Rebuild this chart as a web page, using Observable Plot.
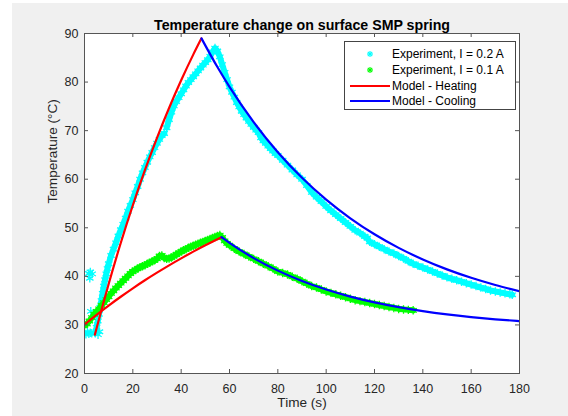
<!DOCTYPE html>
<html><head><meta charset="utf-8">
<script src="https://cdn.jsdelivr.net/npm/d3@7"></script>
<script src="https://cdn.jsdelivr.net/npm/@observablehq/plot@0.6"></script>
<style>
html,body{margin:0;padding:0;background:#fff;}
#wrap{position:relative;width:568px;height:416px;overflow:hidden;}
#edgeL{position:absolute;left:0;top:0;width:12px;height:416px;background:#fff;}
#edgeT{position:absolute;left:0;top:0;width:568px;height:3px;background:#fff;}
#legend{position:absolute;left:344px;top:41px;width:172px;height:69px;border:1px solid #444;background:#fff;box-sizing:border-box;font-family:"Liberation Sans",Arial,sans-serif;font-size:12px;color:#000;}
.row{position:absolute;left:0;height:16px;width:100%;}
.row svg{position:absolute;left:4px;top:0;}
.row span{position:absolute;left:47px;top:1px;line-height:14px;white-space:nowrap;}
</style></head>
<body><div id="wrap"></div>
<script>
const title = "Temperature change on surface SMP spring";
const xLabel = "Time (s)";
const yLabel = "Temperature (°C)";
const xTicks = [0, 20, 40, 60, 80, 100, 120, 140, 160, 180];
const yTicks = [20, 30, 40, 50, 60, 70, 80, 90];

// Experiment, I = 0.2 A  [time s, temperature °C]
const cyanHeating = [[4.5,28.3],[5,29.5],[5.5,30.8],[6,32.2],[6.5,33.6],[7,35],[7.5,36.5],[8,38],[8.5,39.3],[9,40.5],[9.5,41.6],[10,42.6],[11,44.3],[12,45.6],[13,46.9],[14,48.3],[15,49.6],[16,50.7],[17,52.0],[18,53.4],[19,54.6],[20,55.8],[21,57.2],[22,58.5],[23,60.0],[24,61.3],[25,62.4],[26,63.5],[27,64.6],[28,65.5],[29,66.5],[30,67.4],[31,68.2],[32,69.0],[33,69.4]];
const cyanMain = [[34,70.6],[35,72.3],[36,73.8],[37,75.1],[38,76.0],[39,76.8],[40,77.6],[41,78.4],[42,79.2],[43,79.9],[44,80.5],[45,81.1],[46,81.7],[47,82.3],[48,82.9],[49,83.5],[50,84.0],[51,84.6],[52,85.3],[53,86.2],[54,87.0],[55,86.4],[56,85.2],[57,83.6],[58,82.0],[59,80.5],[60,79.0],[61,77.9],[62,76.9],[63,75.8],[64,74.9],[65,74.0],[66,73.3],[67,72.6],[68,71.9],[69,71.3],[70,70.7],[71,70.1],[72,69.6],[73,68.5],[74,67.9],[75,67.4],[76,66.8],[77,66.3],[78,65.8],[79,65.3],[80,64.9],[82,63.9],[84,62.9],[86,61.9],[88,60.9],[90,60.0],[92,58.7],[94,57.3],[96,56.3],[98,55.4],[100,54.4],[102,53.5],[104,52.7],[106,51.9],[108,51.1],[110,50.3],[112,49.5],[114,48.9],[116,48.2],[117,47.9],[118,47.1],[120,46.6],[122,46.1],[124,45.6],[126,45.1],[128,44.7],[130,44.2],[132,43.7],[134,43.1],[136,42.6],[138,42.2],[140,41.8],[142,41.4],[144,41.0],[146,40.6],[148,40.2],[150,39.8],[152,39.5],[154,39.2],[156,38.9],[158,38.6],[160,38.3],[162,38.0],[164,37.7],[166,37.4],[168,37.1],[170,36.9],[172,36.7],[174,36.5],[176,36.3],[177,36.2]];
const cyanStray = [[0,28.3],[0.6,28.1],[1.2,28.5],[1.8,28.2],[2.4,28.4],[3,28.3],[5.6,28.0],[6.2,28.6],[1.8,40.6],[2.4,40.9],[2.2,39.6],[3.2,40.5],[2.6,32.8]];

// Experiment, I = 0.1 A
const greenData = [[0,29.9],[1,30.2],[2,30.8],[3,31.5],[4,32.2],[5,32.8],[6,33.3],[7,34],[8,34.6],[9,35.2],[10,35.8],[11,36.5],[12,37],[13,37.6],[14,38.1],[15,38.6],[16,39.1],[17,39.6],[18,40.1],[19,40.6],[20,41],[21,41.3],[22,41.6],[23,41.9],[24,42.1],[25,42.3],[26,42.6],[27,42.8],[28,43.1],[29,43.3],[30,43.6],[31,44.2],[32,44.3],[33,43.8],[34,43.6],[35,43.7],[36,43.9],[37,44.2],[38,44.5],[39,44.8],[40,45.1],[41,45.4],[42,45.6],[43,45.9],[44,46.1],[45,46.3],[46,46.5],[47,46.7],[48,46.9],[49,47.1],[50,47.3],[51,47.5],[52,47.7],[53,47.9],[54,48.1],[55,48.3],[56,48.5],[57,48.0],[58,47.3],[59,46.8],[60,46.4],[62,45.7],[64,45.1],[66,44.6],[68,44.1],[70,43.6],[72,43.1],[74,42.6],[76,42.1],[78,41.6],[80,41.0],[82,40.7],[84,40.4],[86,39.9],[88,39.5],[90,39.0],[92,38.5],[94,38.0],[96,37.7],[98,37.3],[100,36.9],[102,36.6],[104,36.3],[106,36.0],[108,35.7],[110,35.4],[112,35.1],[114,34.9],[116,34.7],[118,34.5],[120,34.3],[122,34.1],[124,33.9],[126,33.7],[128,33.5],[130,33.3],[132,33.2],[134,33.1],[136,33.0]];

// Models
const heat02 = [[4.3,28.0],[5,29.33],[10,38.44],[15,46.86],[20,54.64],[25,61.85],[30,68.51],[35,74.67],[40,80.37],[45,85.65],[48.4,89.0]];
const heat01 = [[0,30.1],[5,32.09],[10,33.99],[15,35.80],[20,37.54],[25,39.19],[30,40.76],[35,42.27],[40,43.71],[45,45.09],[50,46.40],[56.7,48.06]];
const cool02 = [[48.4,89.0],[55,83.09],[60,79.01],[70,71.76],[80,65.57],[90,60.29],[100,55.79],[110,51.95],[120,48.66],[130,45.86],[140,43.48],[150,41.44],[160,39.70],[170,38.22],[180,36.95]];
const cool01 = [[56.7,48.06],[60,46.89],[70,43.76],[80,41.18],[90,39.05],[100,37.29],[110,35.84],[120,34.64],[130,33.65],[140,32.84],[150,32.17],[160,31.62],[170,31.16],[180,30.78]];

const legendLabels = ["Experiment, I = 0.2 A", "Experiment, I = 0.1 A", "Model - Heating", "Model - Cooling"];
const legendColors = ["#00ffff", "#00ff00", "#ff0000", "#0000ff"];
const legendKinds = ["marker", "marker", "line", "line"];

const W = 568, H = 416, ML = 84, MR = 49, MT = 33, MB = 43;
const fw = W - ML - MR, fh = H - MT - MB;
const axisColor = "#555";
const px = d => d[0], py = d => d[1];

function expMarks(data, color) {
  return [
    Plot.line(data, {x: px, y: py, stroke: color, strokeWidth: 6, clip: true}),
    Plot.dot(data, {x: px, y: py, symbol: "asterisk", r: 4, stroke: color, strokeWidth: 1.3, clip: true})
  ];
}

const chart = Plot.plot({
  width: W, height: H,
  marginLeft: ML, marginRight: MR, marginTop: MT, marginBottom: MB,
  style: {background: "#f0f0f0", fontFamily: "'Liberation Sans', Arial, sans-serif", fontSize: "12.5px", color: "#262626"},
  x: {domain: [0, 180]},
  y: {domain: [20, 90]},
  marks: [
    Plot.frame({fill: "white", stroke: null}),
    ...expMarks(cyanHeating, "#00ffff"),
    ...expMarks(cyanMain, "#00ffff"),
    Plot.dot(cyanStray, {x: px, y: py, symbol: "asterisk", r: 4, stroke: "#00ffff", strokeWidth: 1.3, clip: true}),
    ...expMarks(greenData, "#00ff00"),
    Plot.line(heat02, {x: px, y: py, stroke: "#ff0000", strokeWidth: 2.2, curve: "monotone-x", clip: true}),
    Plot.line(heat01, {x: px, y: py, stroke: "#ff0000", strokeWidth: 2.2, curve: "monotone-x", clip: true}),
    Plot.line(cool02, {x: px, y: py, stroke: "#0000ff", strokeWidth: 2.2, curve: "monotone-x", clip: true}),
    Plot.line(cool01, {x: px, y: py, stroke: "#0000ff", strokeWidth: 2.2, curve: "monotone-x", clip: true}),
    Plot.ruleX(xTicks, {x: d => d, insetTop: fh - 4, stroke: axisColor}),
    Plot.ruleX(xTicks, {x: d => d, insetBottom: fh - 4, stroke: axisColor}),
    Plot.ruleY(yTicks, {y: d => d, insetRight: fw - 4, stroke: axisColor}),
    Plot.ruleY(yTicks, {y: d => d, insetLeft: fw - 4, stroke: axisColor}),
    Plot.frame({stroke: axisColor, strokeWidth: 1}),
    Plot.axisX(xTicks, {tickSize: 0, tickPadding: 11, label: null, fill: "#262626"}),
    Plot.axisY(yTicks, {tickSize: 0, tickPadding: 6, label: null, fill: "#262626"}),
    Plot.text([title], {frameAnchor: "top", dy: -14, text: d => d, fontWeight: "bold", fontSize: 14.2, fill: "#000"}),
    Plot.text([xLabel], {frameAnchor: "bottom", dy: 33, text: d => d, fontSize: 13.6, fill: "#262626"}),
    Plot.text([yLabel], {frameAnchor: "left", dx: -32, rotate: -90, text: d => d, fontSize: 13.6, fill: "#262626"})
  ]
});

const wrap = document.getElementById("wrap");
wrap.appendChild(chart);
["edgeL", "edgeT"].forEach(id => { const e = document.createElement("div"); e.id = id; wrap.appendChild(e); });

const legend = document.createElement("div");
legend.id = "legend";
const rowTops = [4, 20, 36, 51];
legendLabels.forEach((lab, i) => {
  const row = document.createElement("div");
  row.className = "row";
  row.style.top = rowTops[i] + "px";
  const c = legendColors[i];
  let icon;
  if (legendKinds[i] === "marker") {
    icon = `<svg width="44" height="16"><g transform="translate(21,8)" stroke="${c}" stroke-width="1.2"><line x1="-3" y1="0" x2="3" y2="0"/><line x1="0" y1="-3" x2="0" y2="3"/><line x1="-2.2" y1="-2.2" x2="2.2" y2="2.2"/><line x1="-2.2" y1="2.2" x2="2.2" y2="-2.2"/></g></svg>`;
  } else {
    icon = `<svg width="44" height="16"><line x1="1" y1="8" x2="41" y2="8" stroke="${c}" stroke-width="2.2"/></svg>`;
  }
  row.innerHTML = icon + `<span>${lab}</span>`;
  legend.appendChild(row);
});
wrap.appendChild(legend);
</script>
</body></html>
